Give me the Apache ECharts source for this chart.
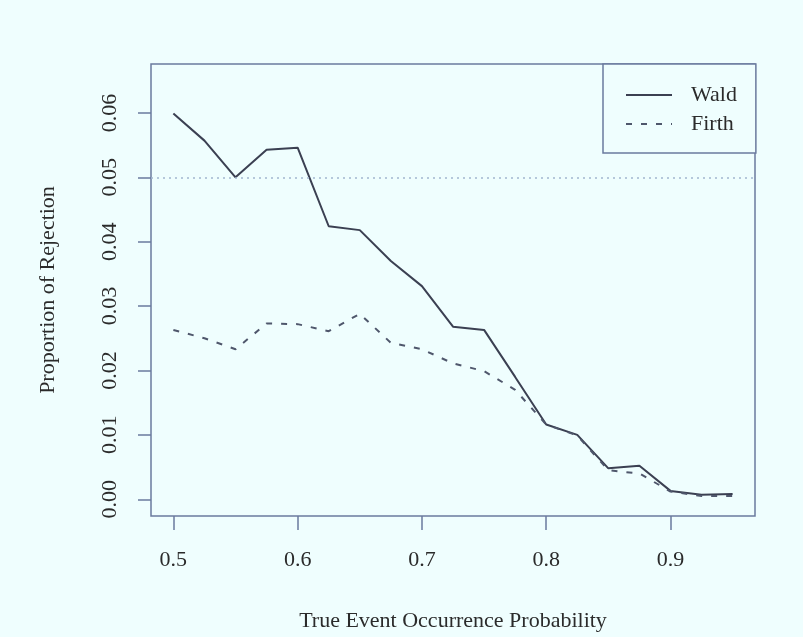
<!DOCTYPE html>
<html>
<head>
<meta charset="utf-8">
<script src="https://cdn.jsdelivr.net/npm/echarts@6/dist/echarts.min.js"></script>
<style>
html,body{margin:0;padding:0;background:#effefe;}
#chart{width:803px;height:637px;}
</style>
</head>
<body>
<div id="chart"></div>
<script>
var probs = [0.5,0.525,0.55,0.575,0.6,0.625,0.65,0.675,0.7,0.725,0.75,0.775,0.8,0.825,0.85,0.875,0.9,0.925,0.95];
var wald  = [0.0599,0.0557,0.0500,0.0543,0.0546,0.0424,0.0418,0.0370,0.0331,0.0268,0.0263,0.0190,0.0116,0.0100,0.0048,0.0052,0.0013,0.0007,0.0008];
var firth = [0.0263,0.0250,0.0233,0.0273,0.0272,0.0261,0.0288,0.0243,0.0233,0.0211,0.0199,0.0170,0.0116,0.0099,0.0045,0.0040,0.0012,0.0005,0.0005];
var xTicks = [0.5,0.6,0.7,0.8,0.9];
var yTicks = [0.00,0.01,0.02,0.03,0.04,0.05,0.06];
var refLevel = 0.05;

function pairs(xs, ys){ return xs.map(function(x,i){ return [x, ys[i]]; }); }

var font = 'Liberation Serif';
var txt = '#2b2b2b';
var frame = '#6b7b9e';
var chart = echarts.init(document.getElementById('chart'));
chart.setOption({
  backgroundColor: '#effefe',
  animation: false,
  grid: {left:151, right:48, top:64, bottom:118, show:true, borderColor:frame, borderWidth:1.5, backgroundColor:'transparent'},
  xAxis: {
    type:'value', min:0.482, max:0.968,
    name:'True Event Occurrence Probability', nameLocation:'middle', nameGap:94,
    nameTextStyle:{fontFamily:font, fontSize:22, color:txt},
    axisLine:{show:false, onZero:false},
    splitLine:{show:false},
    axisTick:{show:true, length:14, lineStyle:{color:frame, width:1.5}, customValues:xTicks},
    axisLabel:{fontFamily:font, fontSize:22, color:txt, margin:33, customValues:xTicks,
      formatter:function(v){return v.toFixed(1);}}
  },
  yAxis: {
    type:'value', min:-0.0026, max:0.0676,
    name:'Proportion of Rejection', nameLocation:'middle', nameGap:92,
    nameTextStyle:{fontFamily:font, fontSize:22, color:txt},
    axisLine:{show:false, onZero:false},
    splitLine:{show:false},
    axisTick:{show:true, length:13, lineStyle:{color:frame, width:1.5}, customValues:yTicks},
    axisLabel:{fontFamily:font, fontSize:22, color:txt, margin:30, rotate:90, customValues:yTicks,
      formatter:function(v){return v.toFixed(2);}}
  },
  legend: {
    orient:'vertical', left:603, top:64,
    padding:[20,19,18,22], itemGap:7, itemWidth:46, itemHeight:14,
    borderColor:frame, borderWidth:1.5, backgroundColor:'#effefe',
    itemStyle:{opacity:0},
    textStyle:{fontFamily:font, fontSize:22, color:txt, padding:[0,0,0,14]},
    data:['Wald','Firth']
  },
  series: [
    {name:'Wald', type:'line', data:pairs(probs, wald), symbol:'none', showSymbol:false,
      lineStyle:{color:'#3b4052', width:2, type:'solid'}, itemStyle:{color:'#3b4052'},
      markLine:{silent:true, symbol:['none','none'], label:{show:false},
        lineStyle:{color:'#a3b6cf', width:1.5, type:[2,4]},
        data:[{yAxis:refLevel}]}
    },
    {name:'Firth', type:'line', data:pairs(probs, firth), symbol:'none', showSymbol:false,
      lineStyle:{color:'#4f576c', width:2, type:[6,9]}, itemStyle:{color:'#4f576c'}}
  ]
});
</script>
</body>
</html>
